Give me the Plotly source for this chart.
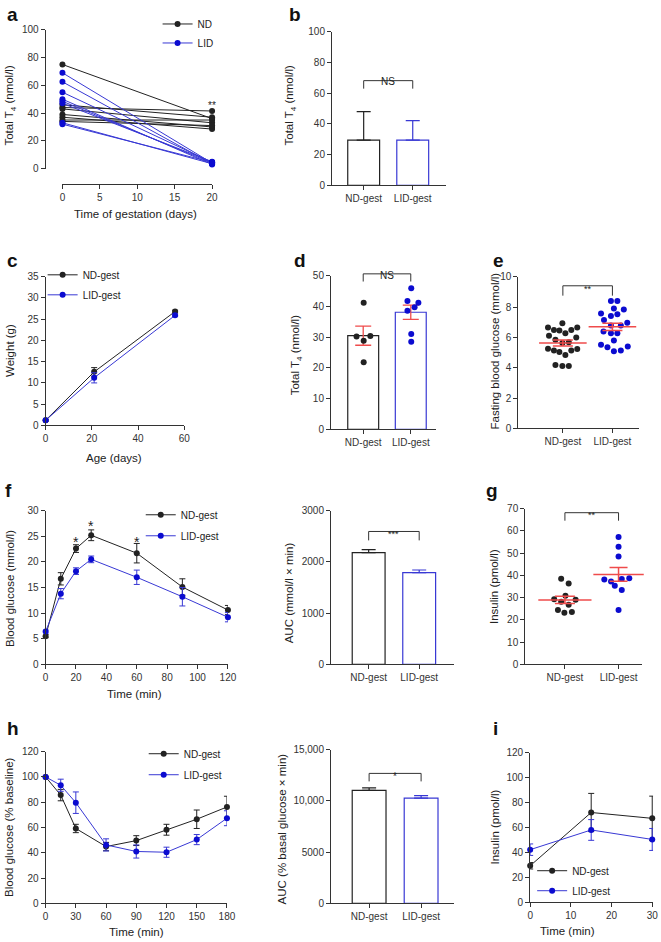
import numpy as np
import plotly.graph_objects as go

W, H = 661, 942          # reference picture size; all positions below are in its pixels
FIG_W, FIG_H = 667, 946  # rendered page comes out ~1% smaller, so draw slightly larger
FONT = "Liberation Sans, Arial, sans-serif"
BLACK = "#222222"
BLUE_LINE = "#3838d4"
BLUE_DOT = "#0b0bd0"
RED = "#ef4b4b"
AXIS = "#333333"

# ---------------- data ----------------
groups = ["ND-gest", "LID-gest"]

# a: total T4 of dams at start / end of gestation
gest_days = [0, 20]
a_nd_start = [75, 46, 44, 43, 39, 37, 35, 34]
a_nd_end = [36, 37, 41.5, 33, 30, 28.5, 35, 31]
a_lid_start = [69, 62.5, 55, 50, 48.5, 47, 33, 32]
a_lid_end = [4, 3.5, 4.5, 3, 4, 5, 3.5, 4.5]

# b
b_mean = [29.5, 29.5]
b_err = [18.5, 12.7]

# c: body weight
c_age = [0, 21, 56]
c_nd = [1.2, 12.6, 26.8]
c_nd_err = [0.2, 1.0, 0.3]
c_lid = [1.2, 11.2, 25.9]
c_lid_err = [0.2, 1.2, 0.3]

# d: total T4 of offspring (dots + jitter)
d_nd = [41.2, 30.2, 30.4, 28.8, 21.8]
d_nd_dx = [0.01, -0.14, 0.15, 0.01, 0.01]
d_lid = [45.9, 41.8, 41.2, 39.7, 38.6, 31.0, 28.5]
d_lid_dx = [0.01, -0.07, 0.16, 0.08, -0.07, 0.01, 0.01]

# e: fasting blood glucose
e_nd = [6.93, 6.65, 6.49, 6.45, 6.49, 6.65, 6.27, 6.10, 5.84, 5.99, 5.62,
        5.67, 5.25, 5.14, 5.03, 5.14, 5.23, 4.84, 4.18, 4.12, 4.12]
e_nd_dx = [-0.01, -0.30, -0.18, -0.07, 0.17, 0.29, 0.05, -0.28, -0.15, 0.27, -0.01,
           0.12, -0.30, -0.18, -0.07, 0.17, 0.29, 0.05, -0.15, -0.01, 0.12]
e_lid = [8.39, 8.39, 7.91, 7.84, 7.58, 7.52, 7.41, 7.15, 6.97, 6.78,
         6.78, 6.38, 6.27, 6.27, 5.79, 5.51, 5.40, 5.34, 5.14, 5.08]
e_lid_dx = [-0.03, 0.10, 0.03, 0.23, -0.23, 0.10, -0.03, -0.17, 0.30, -0.03,
            0.17, -0.18, -0.03, 0.10, 0.03, -0.23, 0.31, -0.10, 0.17, 0.03]

# f: glucose tolerance test
f_time = [0, 10, 20, 30, 60, 90, 120]
f_nd = [5.5, 16.7, 22.6, 25.2, 21.7, 15.1, 10.6]
f_nd_err = [0.3, 1.2, 0.75, 1.05, 1.9, 1.6, 0.9]
f_lid = [6.4, 13.8, 18.2, 20.5, 17.0, 13.2, 9.2]
f_lid_err = [0.3, 1.0, 0.65, 0.65, 1.4, 1.8, 0.9]
f_star_time = [20, 30, 60]
f_star_y = [23.9, 27.0, 23.9]
f_auc = [2180, 1790]
f_auc_err = [58, 52]

# g: fasting insulin
g_nd = [38.5, 36.4, 30.8, 29.3, 28.1, 29.0, 26.75, 24.4, 23.2, 23.5]
g_nd_dx = [-0.07, 0.07, 0.01, -0.20, -0.07, 0.20, 0.07, -0.13, -0.01, 0.13]
g_lid = [57.3, 52.9, 48.5, 38.2, 37.3, 35.3, 38.4, 38.7, 33.4, 24.4]
g_lid_dx = [0.0, 0.0, 0.0, -0.265, -0.14, -0.07, 0.06, 0.20, 0.06, 0.0]

# h: insulin tolerance test
h_time = [0, 15, 30, 60, 90, 120, 150, 180]
h_nd = [100, 85.6, 59.2, 44.9, 49.6, 58.2, 66.5, 76.2]
h_nd_err = [0, 4.5, 3.3, 3.3, 3.9, 4.3, 7.3, 8.5]
h_lid = [100, 93.4, 79.6, 46.2, 41.0, 40.4, 50.4, 67.3]
h_lid_err = [0, 4.8, 8.5, 4.8, 5.2, 4.0, 4.0, 5.9]
h_auc = [11030, 10260]
h_auc_err = [230, 260]
h_auc_ticks = [0, 5000, 10000, 15000]
h_auc_ticktext = ["0", "5000", "10,000", "15,000"]

# i: insulin during GTT
i_time = [0, 15, 30]
i_nd = [29.3, 72.0, 67.3]
i_nd_err = [2.6, 15.3, 17.8]
i_lid = [42.2, 58.0, 50.4]
i_lid_err = [4.6, 8.3, 8.8]

# ---------------- figure ----------------
fig = go.Figure()
layout = {}


def ids(n):
    s = "" if n == 1 else str(n)
    return "x" + s, "y" + s


def base_axis():
    return dict(showline=True, linecolor=AXIS, linewidth=1, ticks="outside", ticklen=4,
                tickwidth=1, tickcolor=AXIS, showgrid=False, zeroline=False,
                tickfont=dict(family=FONT, size=10, color="#333"), fixedrange=True)


def axes(n, xpx, ypx, xr, yr, xtv, ytv, xtt=None, ytt=None, xfree=None, yfree=None):
    xid, yid = ids(n)
    s = "" if n == 1 else str(n)
    xa = base_axis()
    xa.update(domain=[xpx[0] / W, xpx[1] / W], range=xr, tickvals=xtv, anchor=yid)
    if xtt:
        xa["ticktext"] = xtt
    if xfree is not None:
        xa.update(anchor="free", position=1 - xfree / H)
    ya = base_axis()
    ya.update(domain=[1 - ypx[1] / H, 1 - ypx[0] / H], range=yr, tickvals=ytv, anchor=xid)
    if ytt:
        ya["ticktext"] = ytt
    if yfree is not None:
        ya.update(anchor="free", position=yfree / W)
    layout["xaxis" + s] = xa
    layout["yaxis" + s] = ya


def line_trace(n, x, y, err, color, mcolor, name, legend):
    xid, yid = ids(n)
    fig.add_trace(go.Scatter(
        x=x, y=y, mode="lines+markers", name=name, legend=legend, legendgroup=legend + name,
        line=dict(color=color, width=1), marker=dict(color=mcolor, size=6),
        error_y=dict(type="data", array=err, color=color, thickness=1, width=3),
        cliponaxis=False, xaxis=xid, yaxis=yid))


def bar_pair(n, means, errs, sym_red=False):
    xid, yid = ids(n)
    for i, (m, e) in enumerate(zip(means, errs)):
        col = BLACK if i == 0 else BLUE_LINE
        if sym_red:
            ey = dict(type="data", array=[e], color=RED, thickness=1.3, width=8)
        else:
            ey = dict(type="data", symmetric=False, array=[e], arrayminus=[0],
                      color=col, thickness=1.2, width=7)
        fig.add_trace(go.Bar(
            x=[i], y=[m], width=0.65, showlegend=False,
            marker=dict(color="white", line=dict(color=col, width=1.2)),
            error_y=ey, xaxis=xid, yaxis=yid))


def dots(n, vals, dx, idx, color):
    xid, yid = ids(n)
    fig.add_trace(go.Scatter(
        x=np.add(dx, idx), y=vals, mode="markers", showlegend=False,
        marker=dict(color=color, size=6), cliponaxis=False, xaxis=xid, yaxis=yid))


def mean_sem(n, vals, idx, mean_w, cap_w):
    xid, yid = ids(n)
    v = np.asarray(vals, dtype=float)
    sem = v.std(ddof=1) / np.sqrt(len(v))
    fig.add_trace(go.Scatter(
        x=[idx], y=[v.mean()], mode="markers", showlegend=False,
        marker=dict(symbol="line-ew", size=mean_w, color=RED, line=dict(color=RED, width=1.5)),
        error_y=dict(type="data", array=[sem], color=RED, thickness=1.5, width=cap_w),
        cliponaxis=False, xaxis=xid, yaxis=yid))


def bracket(n, ymax, y_low, y_high, label, label_y, size=10):
    # bracket + label placed in axis-domain units so they may sit above the axis top
    xid, yid = ids(n)
    lo, hi = y_low / ymax, y_high / ymax
    fig.add_shape(type="path", path=f"M0,{lo} L0,{hi} L1,{hi} L1,{lo}",
                  xref=xid, yref=yid + " domain", line=dict(color=AXIS, width=1))
    fig.add_annotation(x=0.5, y=label_y / ymax, xref=xid, yref=yid + " domain", text=label,
                       showarrow=False, font=dict(family=FONT, size=size, color="#222"))


def text(t, xc, yc, size=11.5, angle=0, bold=False, anchor="center"):
    fig.add_annotation(x=xc / W, y=1 - yc / H, xref="paper", yref="paper",
                       text=f"<b>{t}</b>" if bold else t, textangle=angle, showarrow=False,
                       xanchor=anchor, yanchor="middle",
                       font=dict(family=FONT, size=size, color="#111" if bold else "#222"))


def legend_box(marker_x, first_y, gap):
    return dict(x=(marker_x - 20) / W, y=1 - (first_y - 14.5) / H, xanchor="left", yanchor="top",
                bgcolor="rgba(0,0,0,0)", font=dict(family=FONT, size=10, color="#222"),
                tracegroupgap=gap, itemwidth=30, orientation="v")


# --- a ---
axes(1, (60, 211), (24, 164), [0, 20], [0, 100], [0, 5, 10, 15, 20], list(range(0, 101, 20)),
     xfree=180, yfree=42)
for start, end, col, mcol, nm in [(a_nd_start, a_nd_end, BLACK, BLACK, "ND"),
                                  (a_lid_start, a_lid_end, BLUE_LINE, BLUE_DOT, "LID")]:
    xs, ys = [], []
    for s0, s1 in zip(start, end):
        xs += [gest_days[0], gest_days[1], None]
        ys += [s0, s1, None]
    fig.add_trace(go.Scatter(x=xs, y=ys, mode="lines+markers", name=nm, legend="legend",
                             legendgroup="a" + nm, line=dict(color=col, width=1),
                             marker=dict(color=mcol, size=6), cliponaxis=False,
                             xaxis="x", yaxis="y"))
fig.add_annotation(x=gest_days[1], y=45.4, xref="x", yref="y", text="**", showarrow=False,
                   font=dict(family=FONT, size=10, color="#222"))
layout["legend"] = legend_box(176, 18, 0)

# --- b ---
axes(2, (332, 447), (26, 181), [-0.646, 1.677], [0, 100], [0, 1], list(range(0, 101, 20)),
     xtt=groups)
bar_pair(2, b_mean, b_err)
bracket(2, 100, 63.0, 68.2, "NS", 72.7)

# --- c ---
axes(3, (43, 183), (273, 423), [0, 60], [0, 35], [0, 20, 40, 60], list(range(0, 36, 5)))
line_trace(3, c_age, c_nd, c_nd_err, BLACK, BLACK, "ND-gest", "legend2")
line_trace(3, c_age, c_lid, c_lid_err, BLUE_LINE, BLUE_DOT, "LID-gest", "legend2")
layout["legend2"] = legend_box(60, 271, 1)

# --- d ---
axes(4, (331, 437), (272, 427), [-0.677, 1.531], [0, 50], [0, 1], list(range(0, 51, 10)),
     xtt=groups)
bar_pair(4, [np.mean(d_nd), np.mean(d_lid)],
         [np.std(d_nd, ddof=1) / np.sqrt(len(d_nd)), np.std(d_lid, ddof=1) / np.sqrt(len(d_lid))],
         sym_red=True)
dots(4, d_nd, d_nd_dx, 0, BLACK)
dots(4, d_lid, d_lid_dx, 1, BLUE_DOT)
bracket(4, 50, 48.1, 50.6, "NS", 52.6)

# --- e ---
axes(5, (520, 642), (273, 426), [-0.9, 1.54], [0, 10], [0, 1], list(range(0, 11, 2)), xtt=groups)
dots(5, e_nd, e_nd_dx, 0, BLACK)
dots(5, e_lid, e_lid_dx, 1, BLUE_DOT)
mean_sem(5, e_nd, 0, 34, 10)
mean_sem(5, e_lid, 1, 34, 10)
bracket(5, 10, 8.75, 9.4, "**", 9.64, size=9)

# --- f (GTT curve) ---
axes(6, (43, 227), (509, 664), [0, 120], [0, 30], list(range(0, 121, 20)), list(range(0, 31, 5)))
line_trace(6, f_time, f_nd, f_nd_err, BLACK, BLACK, "ND-gest", "legend3")
line_trace(6, f_time, f_lid, f_lid_err, BLUE_LINE, BLUE_DOT, "LID-gest", "legend3")
for t, yv in zip(f_star_time, f_star_y):
    fig.add_annotation(x=t, y=yv, xref="x6", yref="y6", text="*", showarrow=False,
                       font=dict(family=FONT, size=14, color="#222"))
layout["legend3"] = legend_box(159, 513, 2)

# --- f (AUC) ---
axes(7, (331, 455), (509, 664), [-0.745, 1.686], [0, 3000], [0, 1], [0, 1000, 2000, 3000],
     xtt=groups)
bar_pair(7, f_auc, f_auc_err)
bracket(7, 3000, 2420, 2594, "***", 2690, size=9)

# --- g ---
axes(8, (527, 645), (507, 664), [-0.74, 1.44], [0, 70], [0, 1], list(range(0, 71, 10)), xtt=groups)
dots(8, g_nd, g_nd_dx, 0, BLACK)
dots(8, g_lid, g_lid_dx, 1, BLUE_DOT)
mean_sem(8, g_nd, 0, 38, 10)
mean_sem(8, g_lid, 1, 36, 9)
bracket(8, 70, 64.6, 68.2, "**", 70.2, size=9)

# --- h (ITT curve) ---
axes(9, (43, 226), (752, 905), [0, 180], [0, 120], list(range(0, 181, 30)), list(range(0, 121, 20)))
line_trace(9, h_time, h_nd, h_nd_err, BLACK, BLACK, "ND-gest", "legend4")
line_trace(9, h_time, h_lid, h_lid_err, BLUE_LINE, BLUE_DOT, "LID-gest", "legend4")
layout["legend4"] = legend_box(162, 754, 2)

# --- h (AUC) ---
axes(10, (331, 455), (750, 905), [-0.733, 1.63], [0, 15000], [0, 1], h_auc_ticks,
     xtt=groups, ytt=h_auc_ticktext)
bar_pair(10, h_auc, h_auc_err)
bracket(10, 15000, 11900, 12680, "*", 13065, size=10)

# --- i ---
axes(11, (532, 656), (753, 904), [0, 30.2], [0, 120], [0, 10, 20, 30], list(range(0, 121, 20)))
line_trace(11, i_time, i_nd, i_nd_err, BLACK, BLACK, "ND-gest", "legend5")
line_trace(11, i_time, i_lid, i_lid_err, BLUE_LINE, BLUE_DOT, "LID-gest", "legend5")
layout["legend5"] = legend_box(554, 872, 1)

# --- axis titles ---
text("Total T<sub>4</sub> (nmol/l)", 7.5, 100, angle=-90)
text("Time of gestation (days)", 133.5, 210)
text("Total T<sub>4</sub> (nmol/l)", 290, 100, angle=-90)
text("Weight (g)", 7, 347, angle=-90)
text("Age (days)", 112, 456)
text("Total T<sub>4</sub> (nmol/l)", 296, 352, angle=-90)
text("Fasting blood glucose (mmol/l)", 497, 348, angle=-90)
text("Blood glucose (mmol/l)", 7, 587, angle=-90)
text("Time (min)", 133, 694)
text("AUC (mmol/l × min)", 289, 592, angle=-90)
text("Insulin (pmol/l)", 495.5, 586, angle=-90)
text("Blood glucose (% baseline)", 6, 828, angle=-90)
text("Time (min)", 135, 934)
text("AUC (% basal glucose × min)", 282, 830, angle=-90)
text("Insulin (pmol/l)", 496, 828, angle=-90)
text("Time (min)", 570, 933)

# --- panel letters ---
for letter, lx, ly in [("a", 2, 8.5), ("b", 287, 8.5), ("c", 2, 256.5), ("d", 292, 256.5),
                       ("e", 492, 256.5), ("f", 0, 488.5), ("g", 485, 488.5),
                       ("h", 2, 728.5), ("i", 492, 728.5)]:
    text(letter, lx, ly, size=19, bold=True, anchor="left")

fig.update_layout(
    width=FIG_W, height=FIG_H, margin=dict(l=0, r=0, t=0, b=0),
    paper_bgcolor="white", plot_bgcolor="white", barmode="overlay",
    font=dict(family=FONT, size=10, color="#222"), showlegend=True,
    **layout)

# the default 8px page margin (and any scrollbars) would shift/shrink the figure
page_css = ("document.documentElement.style.margin='0';"
            "document.documentElement.style.overflow='hidden';"
            "document.body.style.margin='0';document.body.style.overflow='hidden';")
fig.write_html("out.html", config={"displayModeBar": False}, post_script=page_css)
